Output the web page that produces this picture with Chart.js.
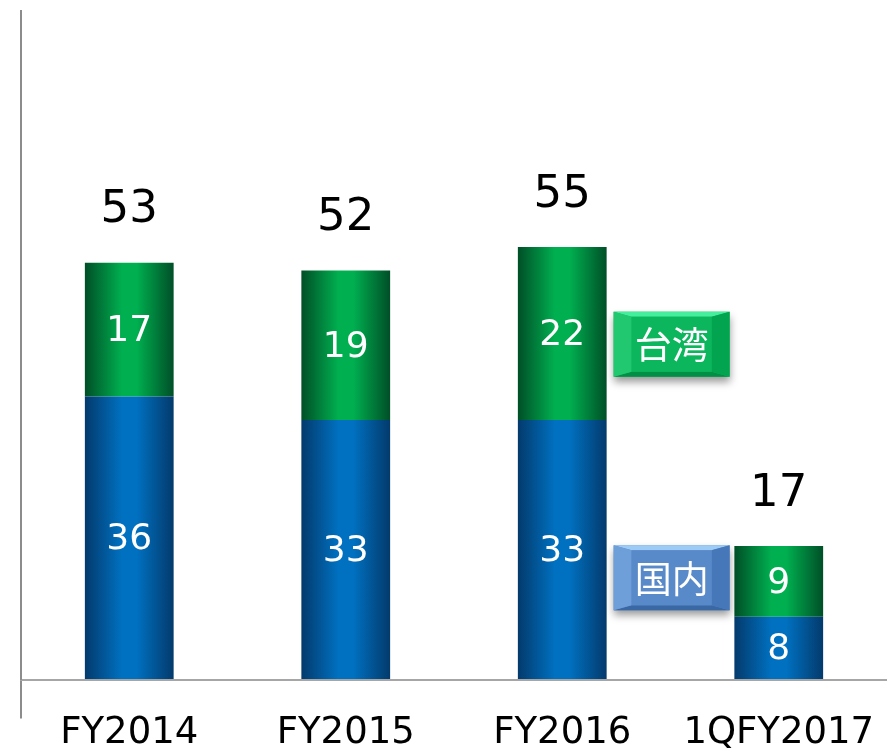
<!DOCTYPE html>
<html>
<head>
<meta charset="utf-8">
<script src="https://cdn.jsdelivr.net/npm/chart.js@4"></script>
<style>
  html, body { margin: 0; padding: 0; background: #fff; }
  #wrap { width: 887px; height: 751px; }
</style>
</head>
<body>
<div id="wrap"><canvas id="grafico"></canvas></div>
<script>
// dados
const categorias = ['FY2014', 'FY2015', 'FY2016', '1QFY2017'];
const kokunai = [36, 33, 33, 8];   // 国内
const taiwan = [17, 19, 22, 9];    // 台湾

const barPct = 0.41;

function gradiente(ctx, escuro, claro) {
    const chart = ctx.chart;
    if (!chart.chartArea || ctx.dataIndex === undefined) return claro;
    const xs = chart.scales.x;
    const cx = xs.getPixelForValue(ctx.dataIndex);
    const w = (xs.width / categorias.length) * barPct;
    const g = chart.ctx.createLinearGradient(cx - w / 2, 0, cx + w / 2, 0);
    g.addColorStop(0, escuro);
    g.addColorStop(0.42, claro);
    g.addColorStop(0.58, claro);
    g.addColorStop(1, escuro);
    return g;
}

// rótulos dos valores e totais
const rotulos = {
    id: 'rotulos',
    afterDatasetsDraw(chart) {
        const c = chart.ctx;
        c.save();
        c.textAlign = 'center';
        c.textBaseline = 'middle';
        c.fillStyle = '#fff';
        c.font = '36px "DejaVu Sans"';
        chart.data.datasets.forEach((ds, di) => {
            chart.getDatasetMeta(di).data.forEach((bar, i) => {
                c.fillText(ds.data[i], bar.x, (bar.y + bar.base) / 2 + 2);
            });
        });
        const topo = chart.getDatasetMeta(chart.data.datasets.length - 1).data;
        c.fillStyle = '#000';
        c.font = '45px "DejaVu Sans"';
        topo.forEach((bar, i) => {
            c.fillText(kokunai[i] + taiwan[i], bar.x, bar.y - 52);
        });
        c.restore();
    }
};

function poly(c, pts, cor) {
    c.beginPath();
    c.moveTo(pts[0][0], pts[0][1]);
    for (let i = 1; i < pts.length; i++) c.lineTo(pts[i][0], pts[i][1]);
    c.closePath();
    c.fillStyle = cor;
    c.fill();
}

function caixa(c, x, y, w, h, cor, texto) {
    c.save();
    c.shadowColor = 'rgba(0,0,0,0.4)';
    c.shadowBlur = 8;
    c.shadowOffsetY = 5;
    c.fillStyle = cor.face;
    c.fillRect(x, y, w, h);
    c.restore();
    const bx = 18, by = 5;
    poly(c, [[x, y], [x + w, y], [x + w - bx, y + by], [x + bx, y + by]], cor.top);
    poly(c, [[x, y + h], [x + w, y + h], [x + w - bx, y + h - by], [x + bx, y + h - by]], cor.bottom);
    poly(c, [[x, y], [x + bx, y + by], [x + bx, y + h - by], [x, y + h]], cor.left);
    poly(c, [[x + w, y], [x + w - bx, y + by], [x + w - bx, y + h - by], [x + w, y + h]], cor.right);
    c.fillStyle = cor.face;
    c.fillRect(x + bx, y + by, w - 2 * bx, h - 2 * by);
    c.fillStyle = '#fff';
    c.font = '37px "Noto Sans CJK JP"';
    c.textAlign = 'center';
    c.textBaseline = 'middle';
    c.fillText(texto, x + w / 2, y + h / 2 + 1);
}

// legendas em caixa ao lado da barra FY2016
const legendas = {
    id: 'legendas',
    afterDraw(chart) {
        const c = chart.ctx;
        const bar = chart.getDatasetMeta(1).data[2];
        const ys = chart.scales.y;
        const x = bar.x + bar.width / 2 + 7;
        const itens = [
            { texto: '台湾', v: 42.7, cor: { face: '#0bb65c', top: '#45ee9c', left: '#22c870', right: '#03a44f', bottom: '#018f45' } },
            { texto: '国内', v: 13, cor: { face: '#5889c8', top: '#9ccbf6', left: '#6f9fd9', right: '#4677b8', bottom: '#3a68a4' } }
        ];
        itens.forEach(it => {
            const cy = ys.getPixelForValue(it.v);
            caixa(c, x, cy - 32, 116, 65, it.cor, it.texto);
        });
    }
};

var ctx = document.getElementById('grafico');
var grafico = new Chart(ctx, {
    type: 'bar',
    data: {
        labels: categorias,
        datasets: [{
            label: '国内',
            data: kokunai,
            backgroundColor: (c) => gradiente(c, '#033a6c', '#0071c1'),
            borderWidth: 0
        }, {
            label: '台湾',
            data: taiwan,
            backgroundColor: (c) => gradiente(c, '#004f27', '#00b050'),
            borderWidth: 0
        }]
    },
    options: {
        responsive: true,
        maintainAspectRatio: false,
        animation: false,
        barPercentage: barPct,
        categoryPercentage: 1,
        layout: { padding: { left: 21, top: 11, right: 0, bottom: 2 } },
        plugins: {
            legend: { display: false },
            tooltip: { enabled: false }
        },
        scales: {
            x: {
                stacked: true,
                border: { display: true, color: '#a6a6a6', width: 2 },
                grid: {
                    drawOnChartArea: false,
                    drawTicks: true,
                    tickLength: 39,
                    lineWidth: 2,
                    color: (c) => c.index === 0 ? '#8c8c8c' : 'rgba(0,0,0,0)'
                },
                ticks: {
                    color: '#000',
                    padding: -7,
                    font: { family: 'DejaVu Sans', size: 37 }
                }
            },
            y: {
                stacked: true,
                min: 0,
                max: 85,
                border: { display: true, color: '#8c8c8c', width: 2 },
                grid: { drawOnChartArea: false, drawTicks: false },
                ticks: { display: false }
            }
        }
    },
    plugins: [rotulos, legendas]
});
</script>
</body>
</html>
